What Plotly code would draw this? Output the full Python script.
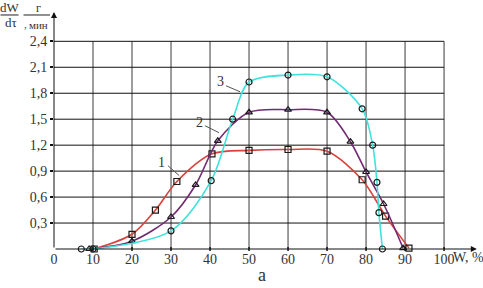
import plotly.graph_objects as go

# Curve 1 (squares, red)
W1 = [10.3, 20, 26, 31.5, 40.5, 50, 60, 70, 79, 85, 91]
R1 = [0.0, 0.17, 0.45, 0.78, 1.10, 1.14, 1.15, 1.13, 0.80, 0.38, 0.01]
# Curve 2 (triangles, purple)
W2 = [9, 20, 30, 36.3, 42, 50, 60, 70, 76, 80, 84.5, 89.5]
R2 = [0.0, 0.09, 0.37, 0.74, 1.25, 1.58, 1.61, 1.58, 1.24, 0.89, 0.52, 0.01]
# Curve 3 (circles, cyan)
W3 = [7, 10, 30, 40.3, 45.8, 50, 60, 70, 79, 81.7, 82.8, 83.3, 84.2]
R3 = [0.0, 0.0, 0.21, 0.79, 1.50, 1.93, 2.01, 1.99, 1.62, 1.20, 0.77, 0.42, 0.0]

x_ticks = [0, 10, 20, 30, 40, 50, 60, 70, 80, 90, 100]
x_tick_labels = ["0", "10", "20", "30", "40", "50", "60", "70", "80", "90", "100"]
y_ticks = [0.3, 0.6, 0.9, 1.2, 1.5, 1.8, 2.1, 2.4]
y_tick_labels = ["0,3", "0,6", "0,9", "1,2", "1,5", "1,8", "2,1", "2,4"]

curve_labels = ["1", "2", "3"]

SERIF = "Times New Roman, Liberation Serif, DejaVu Serif, serif"
TXT = "#333333"

fig = go.Figure()

series = [
    (W1, R1, "#d8423c", "square-open"),
    (W2, R2, "#722a72", "triangle-up-open"),
    (W3, R3, "#3fe3dc", "circle-open"),
]
for W, R, col, sym in series:
    fig.add_trace(go.Scatter(
        x=W, y=R, mode="lines+markers",
        line=dict(color=col, width=1.6, shape="spline", smoothing=0.85),
        marker=dict(symbol=sym, size=6, color="#1a1a1a", line=dict(width=1.2, color="#1a1a1a")),
        showlegend=False, cliponaxis=False, hoverinfo="skip",
    ))

xmax = 108.7
ymax = 2.762

shapes = []
# grid lines
for xv in x_ticks[1:]:
    shapes.append(dict(type="line", xref="x", yref="y", x0=xv, x1=xv, y0=0, y1=y_ticks[-1],
                       line=dict(color="#3a3a3a", width=1), layer="below"))
for yv in y_ticks:
    shapes.append(dict(type="line", xref="x", yref="y", x0=0, x1=x_ticks[-1], y0=yv, y1=yv,
                       line=dict(color="#111111", width=1), layer="below"))

# leader lines for curve labels
leaders = [((29.2, 0.963), (32.1, 0.848)), ((38.7, 1.425), (42.3, 1.344)), ((44.1, 1.886), (47.7, 1.817))]
for (a, b) in leaders:
    shapes.append(dict(type="line", xref="x", yref="y", x0=a[0], y0=a[1], x1=b[0], y1=b[1],
                       line=dict(color="#555555", width=1)))

# fraction bars in y title
L, T, PW, PH = 54, 10, 424, 239.5
def px(xp):
    return (xp - L) / PW
def py(yp):
    return (T + PH - yp) / PH
shapes.append(dict(type="line", xref="paper", yref="paper", x0=px(0.5), x1=px(18.5), y0=py(15), y1=py(15),
                   line=dict(color="#222", width=1)))
shapes.append(dict(type="line", xref="paper", yref="paper", x0=px(23.5), x1=px(50), y0=py(15), y1=py(15),
                   line=dict(color="#222", width=1)))

annotations = []
# axis arrows
annotations.append(dict(x=xmax - 0.3, y=0, ax=0, ay=0, xref="x", yref="y", axref="x", ayref="y",
                        text="", showarrow=True, arrowhead=2, arrowsize=1.2, arrowwidth=1, arrowcolor="#111"))
annotations.append(dict(x=0, y=2.74, ax=0, ay=0, xref="x", yref="y", axref="x", ayref="y",
                        text="", showarrow=True, arrowhead=2, arrowsize=1.2, arrowwidth=1, arrowcolor="#111"))
# small tick marks crossing the x axis
for xv in x_ticks[1:]:
    shapes.append(dict(type="line", xref="x", yref="paper", x0=xv, x1=xv, y0=py(251.5), y1=py(247.5),
                       line=dict(color="#111", width=1.5)))

label_pos = [(27.6, 0.994), (37.3, 1.46), (42.7, 1.93)]
for t, (lx, ly) in zip(curve_labels, label_pos):
    annotations.append(dict(x=lx, y=ly, xref="x", yref="y", text=t, showarrow=False,
                            font=dict(family=SERIF, size=14, color=TXT)))

def ann_px(text, xp, yp, size, xanchor="center"):
    annotations.append(dict(x=px(xp), y=py(yp), xref="paper", yref="paper", text=text, showarrow=False,
                            xanchor=xanchor, yanchor="middle",
                            font=dict(family=SERIF, size=size, color=TXT)))

ann_px("dW", 9.5, 7.5, 13)
ann_px("dτ", 11, 23, 13)
ann_px("г", 38, 7.5, 12)
ann_px(",", 25.5, 24, 11)
ann_px("мин", 38.5, 25, 11)
ann_px("W, %", 468, 258, 14)
ann_px("а", 262, 276, 18)

fig.update_layout(
    width=483, height=288,
    margin=dict(l=L, r=5, t=T, b=38.5, pad=0),
    plot_bgcolor="white", paper_bgcolor="white",
    font=dict(family=SERIF, color=TXT),
    shapes=shapes, annotations=annotations,
    xaxis=dict(range=[0, xmax], tickvals=x_ticks, ticktext=x_tick_labels, showgrid=False,
               zeroline=False, showline=False, ticks="", 
               tickfont=dict(family=SERIF, size=14, color=TXT)),
    yaxis=dict(range=[0, ymax], tickvals=y_ticks, ticktext=y_tick_labels, showgrid=False,
               zeroline=False, showline=False, ticks="outside", ticklen=3, tickwidth=2,
               tickcolor="#111", tickfont=dict(family=SERIF, size=14, color=TXT)),
)

fig.write_html("out.html", config={"displayModeBar": False, "staticPlot": True},
               post_script="document.body.style.margin='0';document.body.style.padding='0';")
